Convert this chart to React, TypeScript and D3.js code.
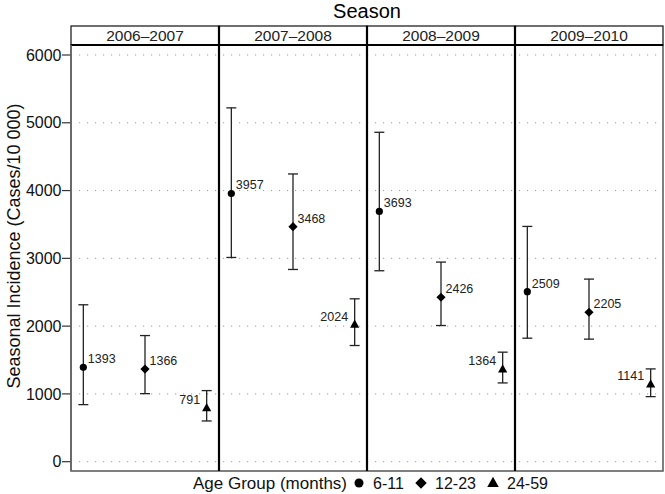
import React from "react";
import * as d3 from "d3";

const seasons = ["2006–2007", "2007–2008", "2008–2009", "2009–2010"];
const ageGroups = ["6-11", "12-23", "24-59"];
const estimates = [
  [1393, 1366, 791],
  [3957, 3468, 2024],
  [3693, 2426, 1364],
  [2509, 2205, 1141],
];
const lowerCI = [
  [842, 1004, 601],
  [3013, 2836, 1714],
  [2817, 2009, 1162],
  [1822, 1808, 960],
];
const upperCI = [
  [2315, 1861, 1049],
  [5220, 4245, 2403],
  [4860, 2945, 1616],
  [3471, 2694, 1369],
];
const yTicks = [0, 1000, 2000, 3000, 4000, 5000, 6000];

const W = 665;
const H = 494;
const left = 71;
const right = 663;
const top = 45;
const bottom = 471;
const stripTop = 26;
const FONT = "'Liberation Sans', Arial, sans-serif";

function Marker({ shape, x, y, s = 1 }: { shape: number; x: number; y: number; s?: number }) {
  if (shape === 0) return <circle cx={x} cy={y} r={3.6 * s} fill="#000" />;
  if (shape === 1)
    return (
      <path
        d={`M${x},${y - 4.6 * s}L${x + 4.6 * s},${y}L${x},${y + 4.6 * s}L${x - 4.6 * s},${y}Z`}
        fill="#000"
      />
    );
  return (
    <path d={`M${x},${y - 5 * s}L${x + 4.6 * s},${y + 3.2 * s}L${x - 4.6 * s},${y + 3.2 * s}Z`} fill="#000" />
  );
}

export default function App() {
  const px = d3.scaleBand<string>().domain(seasons).range([left, right]).padding(0);
  const bw = px.bandwidth();
  const inner = d3.scaleLinear().domain([0.8, 3.2]).range([0, bw]);
  const y = d3.scaleLinear().domain([0, 6000]).range([461.7, 55]);

  return (
    <svg width={W} height={H} style={{ display: "block", position: "absolute", left: 0, top: 0 }} fontFamily={FONT}>
      <rect width={W} height={H} fill="#fff" />
      {/* title */}
      <text x={(left + right) / 2} y={18} textAnchor="middle" fontSize={20} fill="#000">
        Season
      </text>
      {/* gridlines */}
      {yTicks.map((t) => (
        <line
          key={"g" + t}
          x1={left + 8}
          x2={right - 2}
          y1={y(t)}
          y2={y(t)}
          stroke="#9a9a9a"
          strokeWidth={1}
          strokeDasharray="1.2,6.8"
        />
      ))}
      {/* panel outline */}
      <rect x={left} y={top} width={right - left} height={bottom - top} fill="none" stroke="#555" strokeWidth={1.5} />
      {/* strips */}
      {seasons.map((s) => (
        <g key={"s" + s}>
          <rect x={px(s)!} y={stripTop} width={bw} height={top - stripTop} fill="#fff" stroke="#222" strokeWidth={1.3} />
          <text x={px(s)! + bw / 2} y={40.7} textAnchor="middle" fontSize={15.5} fill="#222">
            {s}
          </text>
        </g>
      ))}
      <line x1={left} x2={right} y1={top} y2={top} stroke="#000" strokeWidth={2.2} />
      {/* dividers */}
      {seasons.slice(1).map((s) => (
        <line key={"d" + s} x1={px(s)!} x2={px(s)!} y1={stripTop} y2={bottom} stroke="#000" strokeWidth={2.2} />
      ))}
      {/* y axis */}
      {yTicks.map((t) => (
        <g key={"t" + t}>
          <line x1={62} x2={left} y1={y(t)} y2={y(t)} stroke="#333" strokeWidth={1.2} />
          <text x={61.5} y={y(t) + 5.6} textAnchor="end" fontSize={16} fill="#111">
            {t}
          </text>
        </g>
      ))}
      <line x1={left} x2={left} y1={top} y2={bottom} stroke="#666" strokeWidth={1.6} />
      <text
        transform={`translate(19.5,246) rotate(-90)`}
        textAnchor="middle"
        fontSize={18}
        fill="#111"
      >
        Seasonal Incidence (Cases/10 000)
      </text>
      {/* data */}
      {seasons.map((s, si) =>
        ageGroups.map((a, ai) => {
          const cx = px(s)! + inner(ai + 1);
          const cy = y(estimates[si][ai]);
          const y1 = y(upperCI[si][ai]);
          const y2 = y(lowerCI[si][ai]);
          const isLeft = ai === 2;
          return (
            <g key={s + a}>
              <line x1={cx} x2={cx} y1={y1} y2={y2} stroke="#222" strokeWidth={1.3} />
              <line x1={cx - 5} x2={cx + 5} y1={y1} y2={y1} stroke="#222" strokeWidth={1.3} />
              <line x1={cx - 5} x2={cx + 5} y1={y2} y2={y2} stroke="#222" strokeWidth={1.3} />
              <Marker shape={ai} x={cx} y={cy} />
              <text
                x={isLeft ? cx - 6.5 : cx + 4.5}
                y={cy - 4}
                textAnchor={isLeft ? "end" : "start"}
                fontSize={12.5}
                fill="#222"
              >
                {estimates[si][ai]}
              </text>
            </g>
          );
        })
      )}
      {/* legend */}
      <text x={193} y={489} fontSize={17} fill="#111">
        Age Group (months)
      </text>
      {ageGroups.map((a, i) => {
        const xs = [359, 421, 493][i];
        return (
          <g key={"l" + a}>
            <Marker shape={i} x={xs} y={483} s={1.25} />
            <text x={xs + 14} y={489} fontSize={16} fill="#111">
              {a}
            </text>
          </g>
        );
      })}
    </svg>
  );
}
